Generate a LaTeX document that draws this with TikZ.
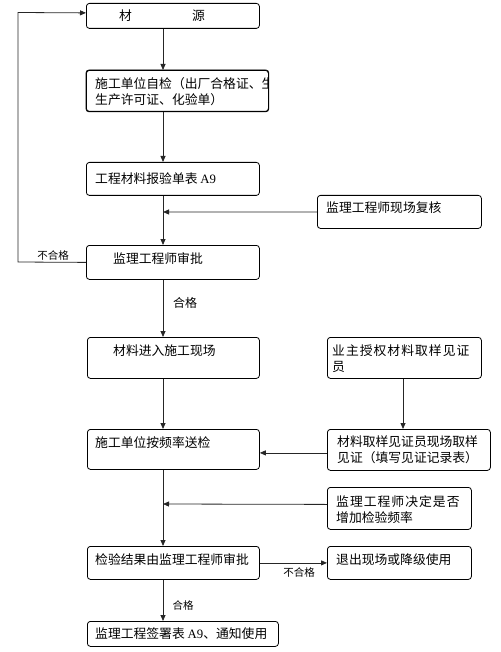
\documentclass[tikz,border=0pt]{standalone}
\usepackage{fontspec}
\setmainfont{Noto Sans CJK SC}
\newfontfamily\latinserif{Liberation Serif}
\usetikzlibrary{arrows.meta}
\begin{document}
\begin{tikzpicture}[x=1pt,y=-1pt,
  box/.style={draw, rounded corners=3pt, line width=0.8pt, anchor=north west, inner sep=0pt},
  txt/.style={anchor=west, inner sep=0pt, font=\fontsize{12.8}{16}\selectfont, align=left},
  lbl/.style={inner sep=0pt, font=\fontsize{10.5}{12}\selectfont},
  conn/.style={line width=0.8pt, draw=black!85},
  arr/.style={conn, -{Triangle[length=6pt,width=5pt]}}
]
\useasboundingbox (0,0) rectangle (500,652);
\coordinate (spine) at (163,0);

% left column boxes
\node[box, minimum width=173pt, minimum height=25pt] (b1) at (86,3) {};
\node[txt] (t1) at (119,15.5) {材\hspace{60pt}源};

\node[box, minimum width=182pt, minimum height=41pt] (b2) at (86,70) {};
\begin{scope}
  \clip (b2.north west) rectangle (b2.south east);
  \node[txt] (t2) at (95,91.5) {施工单位自检（出厂合格证、生\\生产许可证、化验单）};
\end{scope}
\draw[rounded corners=3pt, line width=0.8pt] (b2.north west) rectangle (b2.south east);

\node[box, minimum width=173pt, minimum height=33pt] (b3) at (86,162) {};
\node[txt] (t3) at (95,178.5) {工程材料报验单表 {\latinserif A9}};

\node[box, minimum width=173pt, minimum height=34pt] (b4) at (86,245) {};
\node[txt] (t4) at (113,259) {监理工程师审批};

\node[box, minimum width=172pt, minimum height=41pt] (b5) at (87,337) {};
\node[txt] (t5) at (113,351) {材料进入施工现场};

\node[box, minimum width=172pt, minimum height=40pt] (b7) at (87,429) {};
\node[txt] (t7) at (95,443) {施工单位按频率送检};

\node[box, minimum width=172pt, minimum height=33pt] (b10) at (87,546) {};
\node[txt] (t10) at (95,560) {检验结果由监理工程师审批};

\node[box, minimum width=191pt, minimum height=25pt] (b12) at (87,621) {};
\node[txt] (t12) at (95,633.5) {监理工程签署表 {\latinserif A9}、通知使用};

% right column boxes
\node[box, minimum width=164pt, minimum height=33pt] (r1) at (317,195) {};
\node[txt] (tr1) at (326,208) {监理工程师现场复核};

\node[box, minimum width=154pt, minimum height=41pt] (r2) at (327,337) {};
\node[txt] (tr2) at (332,359) {{\addfontfeatures{LetterSpace=8}业主授权材料取样见证}\\员};

\node[box, minimum width=163pt, minimum height=41pt] (r3) at (327,429) {};
\node[txt] (tr3) at (337,450) {材料取样见证员现场取样\\见证（填写见证记录表）};

\node[box, minimum width=144pt, minimum height=42pt] (r4) at (327,487) {};
\node[txt] (tr4) at (336,509.5) {{\addfontfeatures{LetterSpace=8}监理工程师决定是否}\\增加检验频率};

\node[box, minimum width=144pt, minimum height=33pt] (r5) at (327,546) {};
\node[txt] (tr5) at (336,560) {退出现场或降级使用};

% junction points on the spine
\coordinate (j1) at (163,212);
\coordinate (j2) at (163,504);

% main spine connectors
\draw[arr] (b1.south -| spine) -- (b2.north -| spine);
\draw[arr] (b2.south -| spine) -- (b3.north -| spine);
\draw[arr] (b3.south -| spine) -- (b4.north -| spine);
\draw[arr] (r1.west) -- (j1);
\draw[arr] (b4.south -| spine) -- (b5.north -| spine);
\draw[arr] (b5.south -| spine) -- (b7.north -| spine);
\draw[arr] (b7.south -| spine) -- (b10.north -| spine);
\draw[arr] ([yshift=4pt]r4.west) -- (j2);
\draw[arr] (b10.south -| spine) -- (b12.north -| spine);

% loop back
\draw[arr] (b4.west) -- (18,262) -- (18,12.5) -- ([yshift=3pt]b1.west);

% right side connectors
\draw[arr] (r2.south -| 403,0) -- (r3.north -| 403,0);
\draw[arr] ([yshift=-3pt]r3.west) -- ([yshift=-3pt]r3.west -| b7.east);
\draw[arr] (b10.east) -- (r5.west);

% labels
\node[lbl] (l1) at (53,255) {不合格};
\node[lbl, font=\fontsize{12}{14}\selectfont] (l2) at (185,303) {合格};
\node[lbl] (l3) at (299,572) {不合格};
\node[lbl] (l4) at (183,605) {合格};
\end{tikzpicture}
\end{document}
